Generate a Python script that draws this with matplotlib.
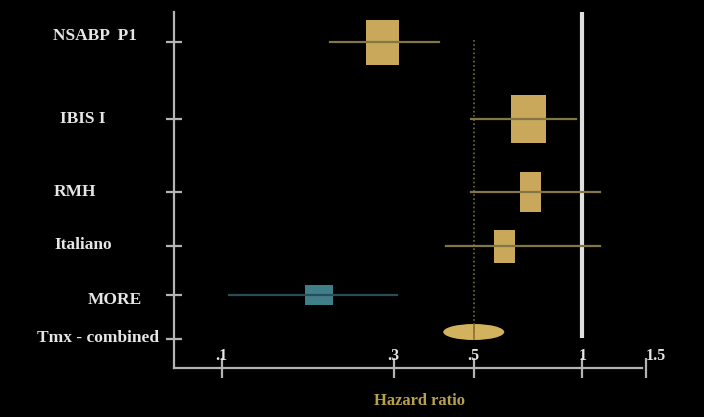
import matplotlib
matplotlib.use("Agg")
import matplotlib.pyplot as plt
from matplotlib.patches import Rectangle, Ellipse
from matplotlib.transforms import ScaledTranslation

# data (hazard ratio, 95% CI)
studies = ["NSABP  P1", "IBIS I", "RMH", "Italiano", "MORE", "Tmx - combined"]
hr = [0.28, 0.71, 0.72, 0.61, 0.186, 0.50]
ci_low = [0.20, 0.49, 0.49, 0.42, 0.105, 0.41]
ci_high = [0.40, 0.96, 1.12, 1.12, 0.306, 0.61]
tick_vals = [0.1, 0.3, 0.5, 1, 1.5]
tick_labels = [".1", ".3", ".5", "1", "1.5"]

# layout (pixel rows, box sizes in px, label left edges in px)
row_y = [42, 119, 192, 246, 295, 332]
box_w = [33, 35, 21, 21, 28]
box_h = [45, 48, 40, 33, 20]
label_x = [53, 60, 54, 54, 88, 37]
label_y = [36, 119, 192, 245, 300, 338]
tick_y = [42, 119, 192, 246, 295, 339]

gold = "#c9a85c"
gold_line = "#857646"
teal = "#3f7f8a"
teal_line = "#2b4d5a"
axis_col = "#b4b4b4"
text_col = "#e6e6e6"

fig = plt.figure(figsize=(7.04, 4.17), dpi=100, facecolor="black")
ax = fig.add_axes([174 / 704, 49 / 417, 477 / 704, 356 / 417])
ax.set_facecolor("black")
ax.set_xscale("log")
ax.set_xlim(0.0738, 1.55)
ax.set_ylim(368, 12)

for s in ["top", "right"]:
    ax.spines[s].set_visible(False)
for s in ["left", "bottom"]:
    ax.spines[s].set_color(axis_col)
    ax.spines[s].set_linewidth(1.6)
ax.spines["bottom"].set_bounds(0.0738, 1.46)

# reference line at 1 and dotted line at combined estimate
ax.plot([1, 1], [12, 338], color="#e0e0e0", lw=3, solid_capstyle="butt")
ax.plot([hr[-1], hr[-1]], [40, 332], color="#6f6a3a", lw=1.2, ls=(0, (1, 1.5)))

for i in range(5):
    col = teal if studies[i] == "MORE" else gold
    lcol = teal_line if studies[i] == "MORE" else gold_line
    ax.plot([ci_low[i], ci_high[i]], [row_y[i], row_y[i]], color=lcol, lw=1.6)
    tr = fig.dpi_scale_trans + ScaledTranslation(hr[i], row_y[i], ax.transData)
    w = box_w[i] / 100
    h = box_h[i] / 100
    ax.add_patch(Rectangle((-w / 2, -h / 2), w, h, transform=tr,
                           facecolor=col, edgecolor="none"))

# combined estimate as ellipse
tr = fig.dpi_scale_trans + ScaledTranslation(hr[-1], row_y[-1], ax.transData)
ax.add_patch(Ellipse((0, 0), 0.61, 0.16, transform=tr, facecolor="#d2b25c",
                     edgecolor="none"))
ax.plot([hr[-1], hr[-1]], [row_y[-1] - 7, row_y[-1] + 7], color="#8a7030", lw=1.2)

# y ticks and study labels
ax.set_yticks(tick_y)
ax.set_yticklabels([])
ax.tick_params(axis="y", direction="inout", length=11, width=1.6, color=axis_col)
for name, lx, ly in zip(studies, label_x, label_y):
    fig.text(lx / 704, 1 - ly / 417, name, color=text_col, fontsize=12.5,
             fontweight="bold", family="Liberation Serif", ha="left", va="center")

# x ticks crossing the axis, labels above it
ax.set_xticks(tick_vals)
ax.set_xticks([], minor=True)
ax.set_xticklabels([])
ax.tick_params(axis="x", direction="inout", length=14, width=1.6, color=axis_col)
for v, lab in zip(tick_vals, tick_labels):
    ax.text(v, 356, lab, color=text_col, fontsize=11.5, fontweight="bold",
            family="Liberation Serif", ha="left" if lab == "1.5" else "center",
            va="center", clip_on=False)

fig.text(420 / 704, 1 - 401 / 417, "Hazard ratio", color="#b9a04e", fontsize=12,
         fontweight="bold", family="Liberation Serif", ha="center", va="center")

fig.savefig("out.png", dpi=100, facecolor="black")
